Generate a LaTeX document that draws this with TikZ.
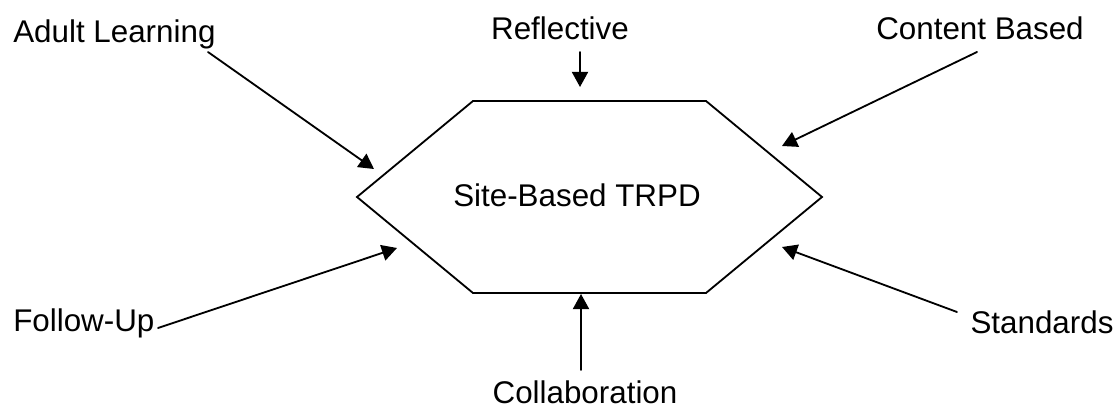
\documentclass[tikz,border=0pt]{standalone}
\usepackage{fontspec}
\setmainfont{Liberation Sans}
\usetikzlibrary{arrows.meta}

\begin{document}
\begin{tikzpicture}[x=0.025cm, y=-0.025cm, line cap=round, line join=miter,
		label/.style={font=\fontsize{22.3}{26}\selectfont, inner sep=0pt},
		feed/.style={line width=1.3pt, -{Triangle[length=10.7pt, width=11.4pt]}}]
			\useasboundingbox (0,0) rectangle (1120,413);

			% -- Hexagon (TRPD) --
			\draw[line width=1.3pt] (357,197) -- (473,101) -- (706,101) -- (822,197) -- (706,293) -- (473,293) -- cycle;
			\node[label, anchor=base] (trpd) at (577,207) {Site-Based TRPD};

			% -- Labels --
			\node[label, anchor=base west] (adult) at (13,43) {Adult Learning};
			\node[label, anchor=base] (reflect) at (560,40) {Reflective};
			\node[label, anchor=base] (content) at (980,40) {Content Based};
			\node[label, anchor=base west] (follow) at (13,332) {Follow-Up};
			\node[label, anchor=base] (standard) at (1042,333) {Standards};
			\node[label, anchor=base] (collab) at (585,403) {Collaboration};

			% -- Arrow ends --
			\coordinate (adultT) at (208,52);   \coordinate (adultH) at (374,169);
			\coordinate (reflectT) at (580,52); \coordinate (reflectH) at (580,87);
			\coordinate (contentT) at (977,52); \coordinate (contentH) at (782,146);
			\coordinate (followT) at (158,328); \coordinate (followH) at (397,248);
			\coordinate (standardT) at (957,312); \coordinate (standardH) at (782,247);
			\coordinate (collabT) at (581,370); \coordinate (collabH) at (581,294);

			% -- Inputs --
			\draw[feed] (adultT) -- (adultH);
			\draw[feed] (reflectT) -- (reflectH);
			\draw[feed] (contentT) -- (contentH);
			\draw[feed] (followT) -- (followH);
			\draw[feed] (standardT) -- (standardH);
			\draw[feed] (collabT) -- (collabH);

		\end{tikzpicture}
\end{document}
